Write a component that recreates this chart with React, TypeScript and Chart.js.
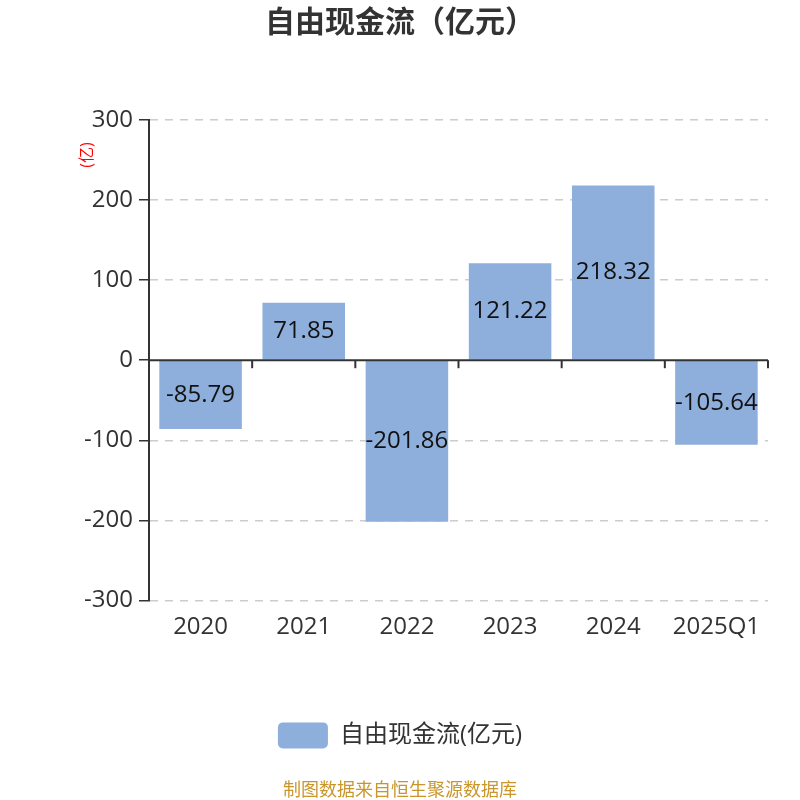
import React, { useEffect, useRef } from 'react';
import { Chart, registerables, Plugin } from 'chart.js';

Chart.register(...registerables);

const categories = ['2020', '2021', '2022', '2023', '2024', '2025Q1'];
const cashFlow = [-85.79, 71.85, -201.86, 121.22, 218.32, -105.64];
const seriesName = '自由现金流(亿元)';
const yMin = -300;
const yMax = 300;
const yStep = 100;

const FONT = '"Open Sans", "Noto Sans CJK SC", sans-serif';
const BAR_COLOR = '#8eaedb';
const AXIS_COLOR = '#333333';

// zero line + category tick marks, bar value labels, rotated unit label
const extrasPlugin: Plugin<'bar'> = {
    id: 'extras',
    afterDatasetsDraw(chart) {
        const { ctx, chartArea, scales } = chart;
        const x = scales.x;
        const y = scales.y;
        const y0 = y.getPixelForValue(0);

        ctx.save();
        // value labels
        const meta = chart.getDatasetMeta(0);
        ctx.font = `24px ${FONT}`;
        ctx.fillStyle = '#111';
        ctx.textAlign = 'center';
        ctx.textBaseline = 'middle';
        meta.data.forEach((bar: any, i) => {
            const mid = (bar.y + bar.base) / 2;
            ctx.fillText(cashFlow[i].toFixed(2), bar.x, mid);
        });

        // zero axis line
        ctx.strokeStyle = AXIS_COLOR;
        ctx.lineWidth = 2;
        ctx.beginPath();
        ctx.moveTo(chartArea.left, y0);
        ctx.lineTo(chartArea.right, y0);
        ctx.stroke();

        // tick marks at category boundaries
        const n = categories.length;
        const bounds: number[] = [chartArea.left];
        for (let i = 0; i < n - 1; i++) {
            bounds.push((x.getPixelForValue(i) + x.getPixelForValue(i + 1)) / 2);
        }
        bounds.push(chartArea.right);
        bounds.forEach((bx) => {
            ctx.beginPath();
            ctx.moveTo(bx, y0);
            ctx.lineTo(bx, y0 + 8);
            ctx.stroke();
        });

        // unit label
        ctx.translate(chartArea.left - 62, chartArea.top + 35);
        ctx.rotate(-Math.PI / 2);
        ctx.font = `16px ${FONT}`;
        ctx.fillStyle = '#ff0000';
        ctx.fillText('(亿)', 0, 0);
        ctx.restore();
    },
};

const App: React.FC = () => {
    const chartRef = useRef<HTMLCanvasElement>(null);
    const chartInstance = useRef<Chart | null>(null);

    useEffect(() => {
        document.body.style.margin = '0';
        if (!chartRef.current) return;
        if (chartInstance.current) {
            chartInstance.current.destroy();
        }
        const ctx = chartRef.current.getContext('2d');
        if (!ctx) return;

        chartInstance.current = new Chart(ctx, {
            type: 'bar',
            data: {
                labels: categories,
                datasets: [
                    {
                        label: seriesName,
                        data: cashFlow,
                        backgroundColor: BAR_COLOR,
                        borderWidth: 0,
                        barPercentage: 0.8,
                        categoryPercentage: 1,
                    },
                ],
            },
            options: {
                responsive: true,
                maintainAspectRatio: false,
                animation: false,
                layout: {
                    padding: { left: 0, right: 0, top: 0, bottom: 0 },
                },
                plugins: {
                    title: {
                        display: true,
                        text: '自由现金流（亿元）',
                        color: '#333',
                        font: { family: FONT, size: 30, weight: 'bold' },
                        padding: { top: 5, bottom: 79 },
                    },
                    legend: {
                        display: true,
                        position: 'bottom',
                        labels: {
                            color: '#333',
                            font: { family: FONT, size: 24 },
                            boxWidth: 50,
                            boxHeight: 26,
                            useBorderRadius: true,
                            borderRadius: 5,
                            padding: 10,
                        },
                    },
                    subtitle: {
                        display: true,
                        position: 'bottom',
                        text: '制图数据来自恒生聚源数据库',
                        color: '#c9962b',
                        font: { family: FONT, size: 18 },
                        padding: { top: 22, bottom: -2 },
                    },
                    tooltip: { enabled: false },
                },
                scales: {
                    x: {
                        afterFit: (scale) => {
                            scale.height = 112;
                        },
                        grid: { display: false, drawTicks: false },
                        border: { display: false },
                        ticks: {
                            color: '#333',
                            font: { family: FONT, size: 24 },
                            padding: 12,
                        },
                    },
                    y: {
                        min: yMin,
                        max: yMax,
                        afterFit: (scale) => {
                            scale.width = 149;
                        },
                        ticks: {
                            stepSize: yStep,
                            color: '#333',
                            font: { family: FONT, size: 24 },
                            padding: 6,
                        },
                        grid: {
                            color: (c) => (c.tick && c.tick.value === 0 ? 'rgba(0,0,0,0)' : '#cccccc'),
                            tickColor: AXIS_COLOR,
                            tickLength: 10,
                            tickBorderDash: [],
                            lineWidth: 1.5,
                        },
                        border: {
                            display: true,
                            color: AXIS_COLOR,
                            width: 2,
                            dash: [8, 7],
                        },
                    },
                    // empty right-hand margin so title/legend stay centred on the page
                    yRight: {
                        position: 'right',
                        display: true,
                        afterFit: (scale) => {
                            scale.width = 32;
                        },
                        grid: { display: false, drawTicks: false },
                        border: { display: false },
                        ticks: { display: false },
                    },
                },
            },
            plugins: [extrasPlugin],
        });

        return () => {
            chartInstance.current?.destroy();
        };
    }, []);

    return (
        <div style={{ width: '800px', height: '800px', position: 'relative' }}>
            <canvas ref={chartRef}></canvas>
        </div>
    );
};

export default App;
